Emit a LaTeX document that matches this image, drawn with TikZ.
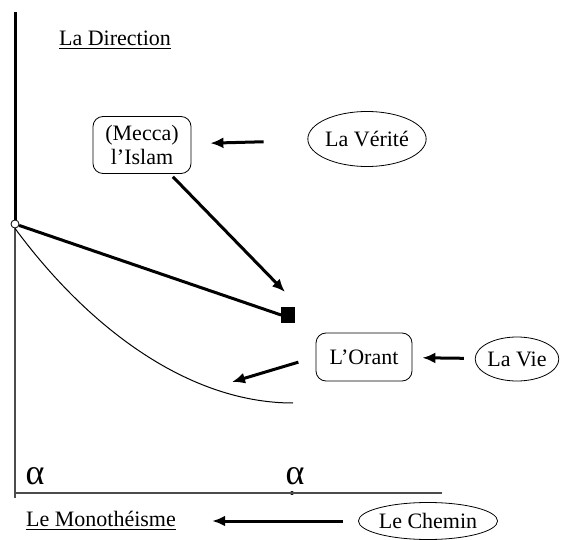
\documentclass[tikz,border=0pt]{standalone}
\usepackage{fontspec}
\setmainfont{Liberation Serif}
\usetikzlibrary{arrows.meta,shapes.geometric}
\tikzset{
  box/.style={draw, rounded corners=5pt, align=center, minimum width=48pt, minimum height=24pt, inner sep=2pt, font=\fontsize{11}{12}\selectfont},
  oval/.style={draw, ellipse, inner sep=0pt, font=\fontsize{11}{11}\selectfont},
  heading/.style={inner sep=1pt, font=\fontsize{11}{11}\selectfont},
  arr/.style={-{Latex[length=6.5pt,width=5.5pt]}, line width=1.5pt},
  axis/.style={line width=0.6pt, gray!60!black},
  greek/.style={inner sep=0pt, font=\fontsize{18}{18}\selectfont}
}

\begin{document}
\begin{tikzpicture}[x=0.5pt,y=-0.5pt]
  \useasboundingbox (0,0) rectangle (563,540);

  % axes
  \coordinate (top) at (15,12);
  \coordinate (corner) at (15,493);
  \coordinate (xend) at (442,493);
  \coordinate (bottom) at (15,498);
  \coordinate (curveend) at (293,403);
  \coordinate (tip) at (285,292);
  \coordinate (toward) at (232,382);

  \node[circle, draw, inner sep=0pt, minimum size=4pt, fill=white, line width=0.4pt] (origin) at (15,224) {};
  \node[draw, fill=black, inner sep=0pt, minimum width=6.5pt, minimum height=7.5pt] (mark) at (288,315) {};
  \node[circle, fill=black, inner sep=0pt, minimum size=2pt] (dot) at (292,493) {};

  \draw[axis] (origin) -- (bottom);
  \draw[axis] (corner) -- (xend);
  \draw[line width=1.5pt] (top) -- (origin);
  \draw[line width=1.5pt] (origin) -- (mark.west);
  \draw[line width=0.5pt] (origin.south) .. controls (90,330) and (190,403) .. (curveend);

  % labels
  \node[heading] (direction) at (115,40) {\underline{La Direction}};
  \node[heading] (monotheisme) at (101,521) {\underline{Le Monothéisme}};
  \node[box, minimum width=49pt, minimum height=28.5pt] (mecca) at (142,145) {(Mecca)\\l’Islam};
  \node[box] (orant) at (364,357) {L’Orant};
  \node[oval, minimum width=57.5pt, minimum height=27.5pt] (verite) at (367,139) {La Vérité};
  \node[oval, minimum width=40pt, minimum height=22pt] (vie) at (517,359) {La Vie};
  \node[oval, minimum width=63.5pt, minimum height=18.5pt] (chemin) at (428,521) {Le Chemin};
  \node[greek] (alphaA) at (35,476) {α};
  \node[greek] (alphaB) at (295,476) {α};

  % arrows
  \draw[arr, shorten <=22pt, shorten >=9.5pt] (verite) -- (mecca);
  \draw[arr, shorten <=2pt] (mecca) -- (tip);
  \draw[arr, shorten <=5.5pt, shorten >=5pt] (vie) -- (orant);
  \draw[arr, shorten <=9pt] (orant.west) -- (toward);
  \draw[arr, shorten <=7.5pt, shorten >=17pt] (chemin.west) -- (monotheisme.east);
\end{tikzpicture}
\end{document}
